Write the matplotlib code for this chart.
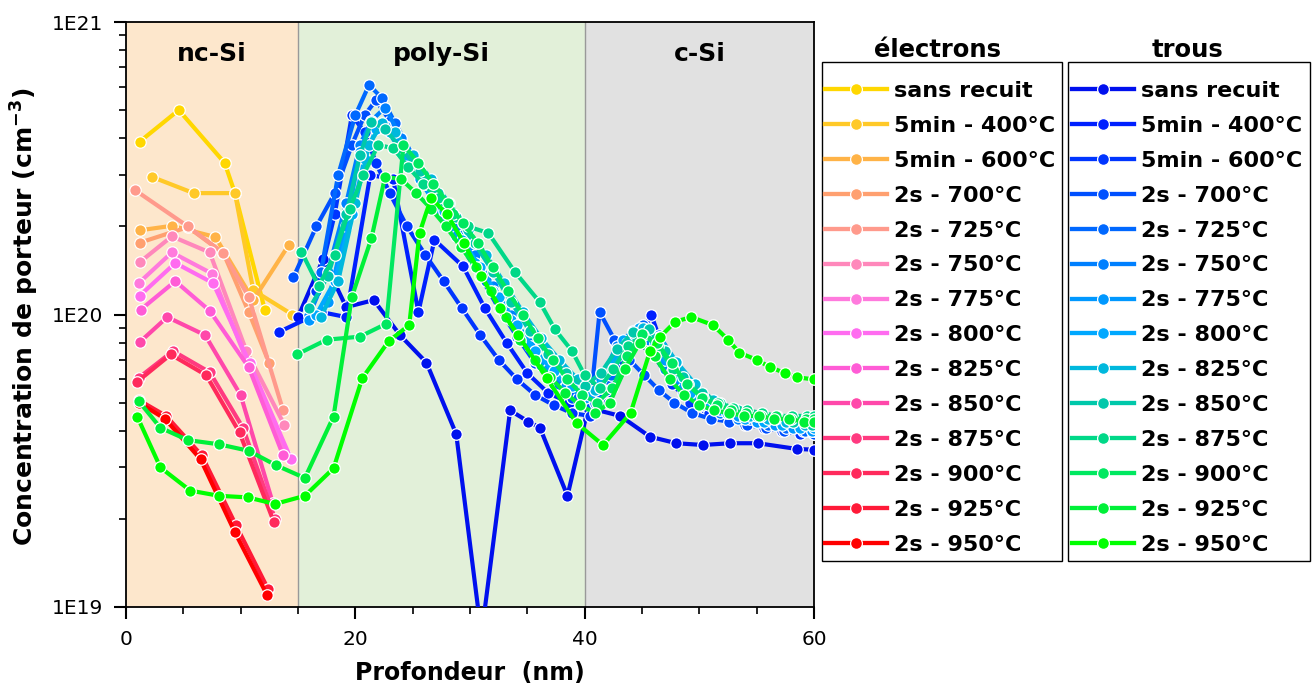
import matplotlib
matplotlib.use("Agg")
import matplotlib.pyplot as plt
from matplotlib.lines import Line2D
from matplotlib.patches import Rectangle
from matplotlib.ticker import FixedLocator, NullFormatter, LogLocator, MultipleLocator
import matplotlib.transforms as mtransforms

plt.rcParams['font.family'] = ['DejaVu Sans']
plt.rcParams['mathtext.fontset'] = 'dejavusans'

anneals = ["sans recuit", "5min - 400°C", "5min - 600°C", "2s - 700°C", "2s - 725°C",
           "2s - 750°C", "2s - 775°C", "2s - 800°C", "2s - 825°C", "2s - 850°C",
           "2s - 875°C", "2s - 900°C", "2s - 925°C", "2s - 950°C"]

elec_colors = ["#FFD700", "#FFC928", "#FFB347", "#FFA070", "#FF9A8C", "#FF88BB", "#FF7ADD",
               "#FF6CF0", "#FF5CD6", "#FF48AA", "#FF3A80", "#FF2A5C", "#FF1A38", "#FF0000"]
hole_colors = ["#0010EE", "#0020FF", "#0035FF", "#0050FF", "#0068FF", "#0080FF", "#0098FF",
               "#00A8FF", "#00B8DD", "#00C8AA", "#00D888", "#00E860", "#00F038", "#00FF00"]

# electrons : depth (nm) / concentration (x1e19 cm-3)
e_sans_x = [1.2, 4.6, 8.6, 9.5, 12.1]
e_sans_y = [39, 50, 33, 26, 10.4]
e_400_x = [2.3, 5.9, 9.5, 11.1, 14.5]
e_400_y = [29.5, 26, 26, 12.1, 10.0]
e_600_x = [1.2, 4.0, 7.8, 11.1, 14.2]
e_600_y = [19.4, 20.1, 18.4, 11.2, 17.3]
e_700_x = [1.2, 5.4, 8.5, 10.7, 12.5]
e_700_y = [17.6, 19.9, 16.2, 10.2, 6.8]
e_725_x = [0.8, 5.4, 8.5, 10.7, 13.7]
e_725_y = [26.6, 20, 16.2, 11.5, 4.7]
e_750_x = [1.2, 4.0, 7.3, 10.5, 13.8]
e_750_y = [15.1, 18.5, 16.3, 7.5, 4.2]
e_775_x = [1.1, 4.0, 7.5, 10.7, 13.9]
e_775_y = [12.8, 16.3, 13.8, 6.7, 3.3]
e_800_x = [1.2, 4.3, 7.6, 10.8, 14.4]
e_800_y = [11.6, 15.0, 12.8, 6.8, 3.2]
e_825_x = [1.3, 4.3, 7.3, 10.7, 13.7]
e_825_y = [10.4, 13.0, 10.3, 6.6, 3.3]
e_850_x = [1.2, 3.6, 6.9, 10.0, 12.8]
e_850_y = [8.05, 9.8, 8.5, 5.3, 2.27]
e_875_x = [1.1, 4.1, 7.3, 10.2, 13.0]
e_875_y = [6.07, 7.5, 6.35, 4.1, 2.0]
e_900_x = [1.0, 3.9, 7.0, 9.9, 12.9]
e_900_y = [5.9, 7.3, 6.2, 3.95, 1.95]
e_925_x = [1.1, 3.5, 6.6, 9.6, 12.4]
e_925_y = [5.1, 4.5, 3.3, 1.9, 1.15]
e_950_x = [1.1, 3.4, 6.5, 9.5, 12.3]
e_950_y = [5.0, 4.4, 3.2, 1.8, 1.1]

# holes : shared depth grids (nm)
xa = [16.0, 17.6, 19.2, 20.4, 21.4, 22.6, 24.0, 25.6, 27.2, 28.8, 30.4, 32.0, 33.6, 35.2, 36.8,
      38.4, 40.0, 41.4, 42.8, 44.2, 45.6, 47.0, 48.6, 50.2, 51.8, 53.4, 55.0, 56.6, 58.2, 59.8]
xb = [16.6, 18.2, 19.7, 20.8, 21.8, 23.0, 24.5, 26.1, 27.7, 29.3, 30.9, 32.5, 34.1, 35.7, 37.3,
      38.9, 40.5, 41.9, 43.3, 44.7, 46.1, 47.6, 49.2, 50.8, 52.4, 54.0, 55.6, 57.2, 58.8, 60.0]
xc = [17.0, 18.5, 20.0, 21.2, 22.3, 23.5, 25.0, 26.6, 28.2, 29.8, 31.4, 33.0, 34.6, 36.2, 37.8,
      39.4, 40.9, 42.3, 43.7, 45.1, 46.5, 48.0, 49.6, 51.2, 52.8, 54.4, 56.0, 57.6, 59.2, 60.0]

h_sans_x = [15.0, 17.2, 19.2, 21.6, 23.9, 26.2, 28.8, 31.0, 33.5, 35.1, 36.1, 38.5, 40.3, 43.1,
            45.7, 48.0, 50.3, 52.7, 55.1, 58.5, 60.0]
h_sans_y = [9.8, 15.5, 10.6, 11.2, 8.5, 6.85, 3.9, 0.8, 4.7, 4.3, 4.1, 2.4, 4.8, 4.5,
            3.82, 3.63, 3.58, 3.63, 3.63, 3.47, 3.45]
h_400_x = [13.3, 17.0, 19.2, 21.3, 23.3, 25.5, 26.9, 29.4, 31.3, 33.2, 35.0, 36.8, 38.6, 40.4,
           42.0, 43.5, 45.8, 47.3, 48.8, 50.5, 52.2, 54.0, 55.8, 57.6, 59.4]
h_400_y = [8.7, 10.2, 9.8, 30, 29, 10.2, 18, 14.6, 10.5, 8.0, 6.3, 5.4, 5.0, 4.7,
           5.0, 6.5, 10.0, 6.8, 5.4, 4.8, 4.5, 4.3, 4.2, 4.1, 4.0]
h_600_y = [12, 22, 48, 42, 33, 26, 20, 16, 13, 10.5, 8.5, 7.0, 6.0, 5.3, 4.9,
           4.6, 4.5, 5.5, 7.0, 8.0, 7.2, 5.8, 5.0, 4.6, 4.4, 4.2, 4.1, 4.0, 3.9, 3.9]
h_700_x = [14.6, 16.6, 18.2, 19.7, 20.8, 21.8, 23.0, 24.5, 26.1, 27.7, 29.3, 30.9, 32.5, 34.1,
           35.7, 37.3, 38.9, 40.5, 41.3, 42.6, 43.9, 45.2, 46.5, 47.8, 49.4, 51.0, 52.6, 54.2,
           55.8, 57.4, 59.0, 60.0]
h_700_y = [13.4, 20, 26, 38, 48, 54, 46, 36, 28, 22, 17, 13.5, 10.5, 8.4,
           6.8, 5.8, 5.2, 5.0, 10.2, 8.2, 7.0, 6.2, 5.5, 5.0, 4.6, 4.4, 4.3, 4.2,
           4.1, 4.0, 4.0, 3.9]
h_725_y = [14, 30, 48, 61, 55, 45, 35, 27, 21, 16.5, 13, 10.2, 8.2, 6.7, 5.8,
           5.2, 5.0, 6.2, 8.0, 9.2, 8.5, 6.8, 5.5, 4.9, 4.6, 4.4, 4.2, 4.1, 4.0, 4.0]
h_750_y = [10, 14, 24, 38, 46, 51, 40, 31, 25, 20, 16, 12.5, 10, 8, 6.6,
           5.8, 5.3, 6.0, 7.8, 8.8, 8.2, 6.5, 5.4, 4.9, 4.6, 4.4, 4.3, 4.2, 4.1, 4.0]
h_775_y = [9.6, 11, 20, 36, 46, 44, 36, 29, 23, 18.5, 15, 12, 9.6, 7.8, 6.5,
           5.7, 5.2, 5.6, 7.2, 8.6, 8.8, 7.0, 5.6, 5.0, 4.7, 4.5, 4.3, 4.2, 4.1, 4.0]
h_800_y = [10, 13, 22, 34, 43, 42, 35, 28, 22.5, 18, 14.5, 11.5, 9.2, 7.5, 6.4,
           5.7, 5.3, 6.4, 8.2, 9.0, 8.0, 6.4, 5.4, 4.9, 4.6, 4.4, 4.3, 4.2, 4.1, 4.1]
h_825_y = [9.8, 13, 24, 38, 45, 42, 35, 29, 24, 19.5, 16, 12.8, 10.2, 8.3, 7.0,
           6.0, 5.5, 6.5, 8.0, 9.0, 8.4, 6.9, 5.8, 5.1, 4.7, 4.5, 4.4, 4.3, 4.2, 4.2]
h_850_y = [10.5, 13.5, 22, 35, 45.6, 43, 37, 31, 26, 21.5, 17.5, 14, 11, 8.8, 7.3,
           6.3, 5.7, 6.3, 7.6, 8.7, 8.9, 7.5, 6.1, 5.4, 5.0, 4.7, 4.5, 4.4, 4.3, 4.2]
h_875_x = [15.3, 16.8, 18.2, 19.5, 20.7, 22.0, 23.3, 24.6, 25.9, 27.2, 28.5, 29.8, 31.6, 33.9,
           36.1, 37.4, 38.9, 40.0, 41.3, 42.5, 43.8, 45.1, 46.4, 47.7, 49.0, 50.3, 51.6, 52.9,
           54.2, 55.5, 56.8, 58.1, 59.4, 60.0]
h_875_y = [16.4, 12.5, 16, 23, 30, 38, 37, 32, 28, 25, 22, 20, 19, 14,
           11, 8.9, 7.5, 6.2, 5.6, 6.5, 7.8, 8.5, 7.8, 6.5, 5.8, 5.2, 5.0, 4.8,
           4.7, 4.6, 4.5, 4.5, 4.5, 4.5]
h_900_x = [14.9, 17.5, 20.4, 22.7, 24.2, 25.5, 26.8, 28.1, 29.4, 30.7, 32.0, 33.3, 34.6, 35.9,
           37.2, 38.5, 39.8, 41.1, 42.4, 43.7, 45.0, 46.3, 47.6, 48.9, 50.2, 51.5, 52.8, 54.1,
           55.4, 56.7, 58.0, 59.3, 60.0]
h_900_y = [7.3, 8.2, 8.4, 9.3, 38, 33, 28, 24, 20.5, 17.5, 14.5, 12, 10, 8.3,
           7.0, 6.0, 5.3, 5.0, 5.6, 7.2, 8.6, 8.0, 6.8, 5.8, 5.2, 4.9, 4.7, 4.6,
           4.5, 4.5, 4.4, 4.4, 4.4]
h_925_x = [1.1, 3.0, 5.4, 8.1, 10.7, 13.1, 15.6, 18.1, 19.7, 21.4, 22.6, 24.0, 25.3, 26.6,
           27.9, 29.2, 30.5, 31.8, 33.1, 34.4, 35.7, 37.0, 38.3, 39.6, 40.9, 42.2, 43.5, 44.8,
           46.1, 47.4, 48.7, 50.0, 51.3, 52.6, 53.9, 55.2, 56.5, 57.8, 59.1, 60.0]
h_925_y = [5.06, 4.1, 3.72, 3.6, 3.42, 3.05, 2.76, 4.48, 11.5, 18.2, 29.6, 29, 26, 23,
           20, 17, 14.5, 12, 9.8, 8.2, 7.0, 6.1, 5.4, 4.9, 4.6, 5.0, 6.5, 8.0,
           7.2, 6.0, 5.3, 4.9, 4.7, 4.6, 4.5, 4.5, 4.4, 4.4, 4.3, 4.3]
h_950_x = [1.0, 3.0, 5.6, 8.1, 10.6, 13.0, 15.6, 18.1, 20.6, 22.9, 24.7, 25.6, 26.6, 28.0,
           29.5, 31.0, 32.6, 34.2, 36.7, 39.3, 41.6, 44.0, 45.7, 46.6, 47.9, 49.3, 51.2, 52.5,
           53.5, 55.0, 56.2, 57.5, 58.5, 60.0]
h_950_y = [4.46, 3.0, 2.5, 2.4, 2.37, 2.25, 2.4, 2.98, 6.05, 8.1, 9.2, 19, 25, 22,
           17.5, 13.5, 10.5, 8.5, 6.05, 4.25, 3.58, 4.6, 7.5, 8.4, 9.45, 9.8, 9.2, 8.2,
           7.4, 7.0, 6.6, 6.3, 6.1, 6.0]

electrons = [(e_sans_x, e_sans_y), (e_400_x, e_400_y), (e_600_x, e_600_y), (e_700_x, e_700_y),
             (e_725_x, e_725_y), (e_750_x, e_750_y), (e_775_x, e_775_y), (e_800_x, e_800_y),
             (e_825_x, e_825_y), (e_850_x, e_850_y), (e_875_x, e_875_y), (e_900_x, e_900_y),
             (e_925_x, e_925_y), (e_950_x, e_950_y)]
holes = [(h_sans_x, h_sans_y), (h_400_x, h_400_y), (xb, h_600_y), (h_700_x, h_700_y),
         (xc, h_725_y), (xa, h_750_y), (xa, h_775_y), (xb, h_800_y),
         (xc, h_825_y), (xa, h_850_y), (h_875_x, h_875_y), (h_900_x, h_900_y),
         (h_925_x, h_925_y), (h_950_x, h_950_y)]

regions = [(0, 15, "#FDE7CC", "nc-Si"), (15, 40, "#E2F0D9", "poly-Si"), (40, 60, "#E1E1E1", "c-Si")]

W, H = 1312, 688
fig = plt.figure(figsize=(W / 100, H / 100), dpi=100)
ax = fig.add_axes([126 / W, 81 / H, 688 / W, 585 / H])

for x0, x1, col, name in regions:
    ax.axvspan(x0, x1, color=col, zorder=0, lw=0)
    ax.text((x0 + x1) / 2, 0.946, name,
            transform=mtransforms.blended_transform_factory(ax.transData, ax.transAxes),
            ha='center', va='center', fontsize=18, fontweight='bold', zorder=5)
for xb_ in (15, 40):
    ax.axvline(xb_, color='#999999', lw=1, zorder=1)

style = dict(lw=3.0, marker='o', ms=8.3, mec='white', mew=0.9, zorder=3)
for (x, y), c in zip(electrons, elec_colors):
    ax.plot(x, [v * 1e19 for v in y], color=c, **style)
for (x, y), c in zip(holes, hole_colors):
    ax.plot(x, [v * 1e19 for v in y], color=c, **style)

ax.set_yscale('log')
ax.set_xlim(0, 60)
ax.set_ylim(1e19, 1e21)
ax.yaxis.set_major_locator(FixedLocator([1e19, 1e20, 1e21]))
ax.set_yticklabels(["1E19", "1E20", "1E21"])
ax.yaxis.set_minor_locator(LogLocator(base=10, subs=range(2, 10)))
ax.yaxis.set_minor_formatter(NullFormatter())
ax.xaxis.set_major_locator(MultipleLocator(20))
ax.xaxis.set_minor_locator(MultipleLocator(5))
ax.tick_params(which='major', direction='out', length=8.5, width=1.5, labelsize=14.5)
ax.tick_params(which='minor', direction='out', length=4.8, width=1.2)
ax.tick_params(axis='y', which='major', pad=8)
ax.tick_params(axis='x', which='major', pad=8)
for s in ax.spines.values():
    s.set_linewidth(1.3)

ax.set_xlabel("Profondeur  (nm)", fontsize=17, fontweight='bold', labelpad=9)
fig.text(25 / W, 1 - 317 / H, r"Concentration de porteur (cm$^{\mathbf{-3}}$)", rotation=90,
         ha='center', va='center', fontsize=18, fontweight='bold')


def handles(colors):
    return [Line2D([], [], color=c, lw=3.1, marker='o', ms=8.5, mec='white', mew=0.9) for c in colors]


leg_kw = dict(loc='upper left', bbox_transform=fig.transFigure, frameon=False,
              prop={'weight': 'bold', 'size': 16}, labelspacing=0.67, handlelength=2.8,
              handletextpad=0.32, borderpad=0, borderaxespad=0)
fig.legend(handles(elec_colors), anneals, bbox_to_anchor=(825 / W, 1 - 81 / H), **leg_kw)
fig.legend(handles(hole_colors), anneals, bbox_to_anchor=(1072 / W, 1 - 81 / H), **leg_kw)

# legend frames (titles sit above the boxes)
for left, right in ((822, 1062), (1068, 1310)):
    fig.patches.append(Rectangle((left / W, 1 - 561 / H), (right - left) / W, (561 - 62) / H,
                                 transform=fig.transFigure, fill=False, ec='black', lw=1.0))

fig.text(937 / W, 1 - 50 / H, "électrons", ha='center', va='center', fontsize=17.5, fontweight='bold')
fig.text(1188 / W, 1 - 50 / H, "trous", ha='center', va='center', fontsize=17.5, fontweight='bold')

fig.savefig("out.png", dpi=100)
